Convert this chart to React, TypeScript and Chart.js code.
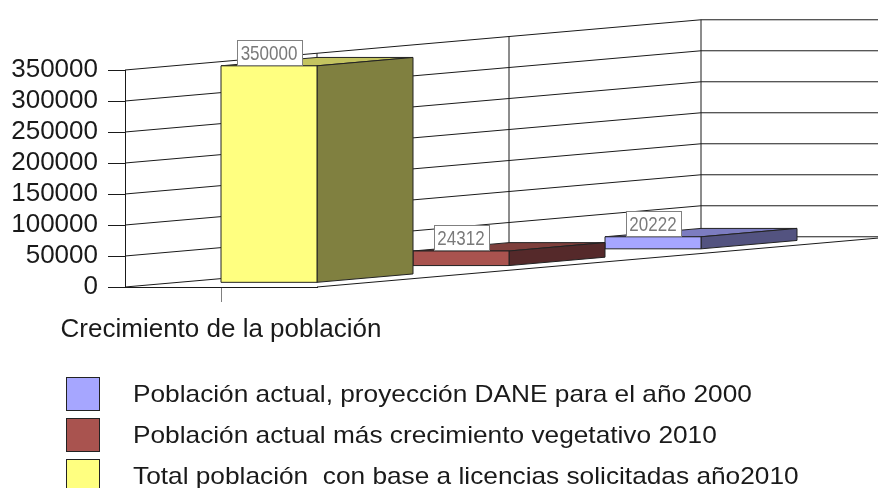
import React, { useEffect, useRef } from "react";
import { Chart, registerables } from "chart.js";

Chart.register(...registerables);

// ---- data ----
const categories = ["Crecimiento de la población"];
const seriesNames = [
  "Total población  con base a licencias solicitadas año2010",
  "Población actual más crecimiento vegetativo 2010",
  "Población actual, proyección DANE para el año 2000",
];
const seriesValues = [[350000], [24312], [20222]];
const valueLabels = ["350000", "24312", "20222"];
const yTickMin = 0;
const yTickMax = 350000;
const yTickStep = 50000;

// ---- styles ----
const frontColors = ["#FFFF80", "#A9534F", "#A6A6FF"];
const topColors = ["#C4C460", "#7E3F3C", "#7C7CC0"];
const sideColors = ["#808040", "#55292A", "#535380"];
const FONT = "'Liberation Sans', Arial, sans-serif";

const threeD = {
  id: "threeD",
  beforeDatasetsDraw(chart: any) {
    const { ctx, chartArea, scales } = chart;
    const y = scales.y;
    const W = chartArea.right - chartArea.left;
    const DX = W;
    const DY = -W * 0.0872;
    const n = seriesValues.length;
    const x0 = chartArea.left;
    ctx.save();
    ctx.strokeStyle = "#1a1a1a";
    ctx.lineWidth = 1;
    ctx.beginPath();
    for (let v = yTickMin; v <= yTickMax; v += yTickStep) {
      const yv = y.getPixelForValue(v);
      ctx.moveTo(x0, yv);
      ctx.lineTo(x0 + n * DX, yv + n * DY);
      ctx.lineTo(x0 + n * DX + W, yv + n * DY);
    }
    const y0 = y.getPixelForValue(yTickMin);
    const yT = y.getPixelForValue(yTickMax);
    for (let d = 1; d <= n; d++) {
      ctx.moveTo(x0 + d * DX, y0 + d * DY);
      ctx.lineTo(x0 + d * DX, yT + d * DY);
    }
    ctx.moveTo(x0 + W, y0);
    ctx.lineTo(x0 + W + n * DX, y0 + n * DY);
    ctx.stroke();
    ctx.restore();
  },
  afterDatasetsDraw(chart: any) {
    const { ctx, chartArea } = chart;
    const W = chartArea.right - chartArea.left;
    const DX = W;
    const DY = -W * 0.0872;
    const n = seriesValues.length;
    ctx.save();
    ctx.lineWidth = 1;
    ctx.strokeStyle = "#222";
    ctx.lineJoin = "miter";
    for (let i = n - 1; i >= 0; i--) {
      const el = chart.getDatasetMeta(i).data[0];
      if (!el) continue;
      const d0 = i + 0.25;
      const bx = 0.5 * DX;
      const by = 0.5 * DY;
      const L = el.x - el.width / 2 + d0 * DX;
      const R = L + el.width;
      const T = el.y + d0 * DY;
      const B = el.base + d0 * DY;
      ctx.beginPath();
      ctx.moveTo(L, T);
      ctx.lineTo(R, T);
      ctx.lineTo(R + bx, T + by);
      ctx.lineTo(L + bx, T + by);
      ctx.closePath();
      ctx.fillStyle = topColors[i];
      ctx.fill();
      ctx.stroke();
      ctx.beginPath();
      ctx.moveTo(R, T);
      ctx.lineTo(R + bx, T + by);
      ctx.lineTo(R + bx, B + by);
      ctx.lineTo(R, B);
      ctx.closePath();
      ctx.fillStyle = sideColors[i];
      ctx.fill();
      ctx.stroke();
      ctx.beginPath();
      ctx.rect(L, T, R - L, B - T);
      ctx.fillStyle = frontColors[i];
      ctx.fill();
      ctx.stroke();
    }
    ctx.font = `17px ${FONT}`;
    ctx.textAlign = "center";
    ctx.textBaseline = "middle";
    for (let i = 0; i < n; i++) {
      const el = chart.getDatasetMeta(i).data[0];
      if (!el) continue;
      const d0 = i + 0.25;
      const cx = el.x + d0 * DX;
      const T = el.y + d0 * DY;
      const txt = valueLabels[i];
      const tw = ctx.measureText(txt).width;
      const bw = Math.round(tw + 8);
      const bh = 25;
      const left = Math.round(cx - bw / 2) + 0.5;
      const top = Math.round(T - 1 - bh) + 0.5;
      ctx.fillStyle = "#fff";
      ctx.fillRect(left, top, bw, bh);
      ctx.strokeStyle = "#808080";
      ctx.strokeRect(left, top, bw, bh);
      ctx.fillStyle = "#7a7a7a";
      ctx.save();
      ctx.translate(cx, top + bh / 2 + 1);
      ctx.scale(1, 1.2);
      ctx.fillText(txt, 0, 0);
      ctx.restore();
    }
    ctx.restore();
  },
  afterDraw(chart: any) {
    const { ctx } = chart;
    ctx.save();
    const order = [2, 1, 0];
    ctx.font = `24px ${FONT}`;
    ctx.textAlign = "left";
    ctx.textBaseline = "middle";
    order.forEach((si, k) => {
      const top = 377 + k * 41;
      ctx.fillStyle = frontColors[si];
      ctx.fillRect(66.5, top + 0.5, 33, 33);
      ctx.strokeStyle = "#222";
      ctx.lineWidth = 1;
      ctx.strokeRect(66.5, top + 0.5, 33, 33);
      ctx.fillStyle = "#1a1a1a";
      ctx.save();
      ctx.translate(133, top + 18);
      ctx.scale(1.094, 1);
      ctx.fillText(seriesNames[si], 0, 0);
      ctx.restore();
    });
    ctx.restore();
  },
};

export default function App() {
  const ref = useRef<HTMLCanvasElement | null>(null);
  useEffect(() => {
    if (!ref.current) return;
    const chart = new Chart(ref.current, {
      type: "bar",
      data: {
        labels: categories,
        datasets: seriesNames.map((name, i) => ({
          label: name,
          data: seriesValues[i],
          backgroundColor: "rgba(0,0,0,0)",
          borderWidth: 0,
          grouped: false,
          barPercentage: 0.5,
          categoryPercentage: 1,
        })),
      },
      options: {
        responsive: false,
        animation: false,
        devicePixelRatio: 1,
        layout: { padding: { top: 70, right: 561, left: 0, bottom: 0 } },
        plugins: { legend: { display: false }, tooltip: { enabled: false } },
        scales: {
          x: {
            type: "category",
            offset: true,
            grid: {
              offset: false,
              drawOnChartArea: false,
              tickLength: 15,
              color: "#808080",
            },
            border: { display: true, color: "#1a1a1a", width: 1 },
            ticks: {
              maxRotation: 0,
              minRotation: 0,
              autoSkip: false,
              padding: 12,
              color: "#1a1a1a",
              font: { family: FONT, size: 26 },
            },
            afterFit: (s: any) => {
              s.height = 201;
              s.paddingLeft = 0;
              s.paddingRight = 0;
            },
          },
          y: {
            min: yTickMin,
            max: yTickMax,
            ticks: {
              stepSize: yTickStep,
              autoSkip: false,
              padding: 10,
              color: "#1a1a1a",
              font: { family: FONT, size: 26 },
              callback: (v: any) => String(v),
            },
            grid: { drawOnChartArea: false, tickLength: 17, color: "#1a1a1a" },
            border: { display: true, color: "#1a1a1a", width: 1 },
            afterFit: (s: any) => {
              s.width = 125;
            },
          },
        },
      },
      plugins: [threeD],
    });
    return () => chart.destroy();
  }, []);
  return (
    <div style={{ position: "absolute", left: 0, top: 0, width: 878, height: 488, background: "#fff" }}>
      <canvas ref={ref} width={878} height={488} />
    </div>
  );
}
